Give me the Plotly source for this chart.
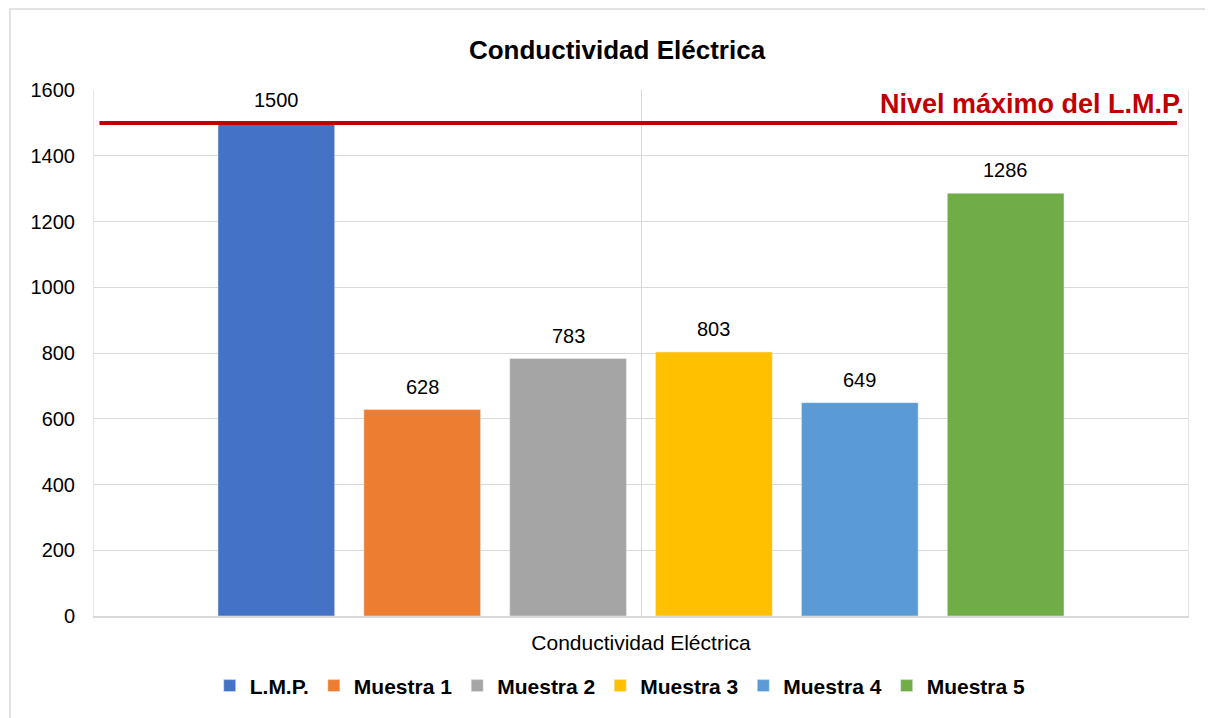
import plotly.graph_objects as go

category = ["Conductividad Eléctrica"]
series_names = ["L.M.P.", "Muestra 1", "Muestra 2", "Muestra 3", "Muestra 4", "Muestra 5"]
series_values = [1500, 628, 783, 803, 649, 1286]
series_colors = ["#4472C4", "#ED7D31", "#A5A5A5", "#FFC000", "#5B9BD5", "#70AD47"]
lmp_limit = 1500
y_ticks = [0, 200, 400, 600, 800, 1000, 1200, 1400, 1600]

FONT = "Liberation Sans, Arial, sans-serif"

# page body adds 8px, so the figure is a bit smaller than the window
WIDTH, HEIGHT = 1205, 710
MARGIN = dict(l=86, r=25, t=82, b=99)
BARGAP = 0.2


def main():
    fig = go.Figure()

    n = len(series_names)
    plot_w = WIDTH - MARGIN["l"] - MARGIN["r"]
    slot = plot_w * (1 - BARGAP) / n

    for i, (name, value, color) in enumerate(zip(series_names, series_values, series_colors)):
        fig.add_trace(go.Bar(
            x=category,
            y=[value],
            name=name,
            marker_color=color,
        ))
        # value label above each bar
        fig.add_annotation(xref="x", yref="y", x=category[0], y=value,
                           xshift=(i - (n - 1) / 2) * slot, yshift=10,
                           xanchor="center", yanchor="bottom",
                           text=str(value), showarrow=False,
                           font=dict(size=20, color="#000000", family=FONT))

    # limit line (L.M.P.)
    fig.add_shape(type="line", xref="paper", yref="y",
                  x0=0.005, x1=0.99, y0=lmp_limit, y1=lmp_limit,
                  line=dict(color="#C00000", width=4))
    fig.add_annotation(xref="paper", yref="y", x=0.998, y=lmp_limit,
                       xanchor="right", yanchor="bottom", yshift=2,
                       text="<b>Nivel máximo del L.M.P.</b>", showarrow=False,
                       font=dict(size=27, color="#C00000", family=FONT))

    # chart border
    fig.add_shape(type="rect", xref="paper", yref="paper",
                  x0=-0.0768, x1=1.05, y0=-0.25, y1=1.154,
                  line=dict(color="#D9D9D9", width=1.5), layer="below")

    fig.update_layout(
        width=WIDTH,
        height=HEIGHT,
        margin=MARGIN,
        paper_bgcolor="white",
        plot_bgcolor="white",
        font=dict(family=FONT, size=20, color="#000000"),
        title=dict(text="<b>Conductividad Eléctrica</b>", x=0.5054, xref="container",
                   y=0.9408, yref="container", xanchor="center", yanchor="middle",
                   font=dict(size=26, color="#000000", family=FONT)),
        barmode="group",
        bargap=BARGAP,
        bargroupgap=0.2,
        showlegend=True,
        legend=dict(orientation="h", x=0.481, xanchor="center", y=-0.133, yanchor="middle",
                    font=dict(size=21, color="#000000", family=FONT, weight="bold")),
    )
    fig.update_xaxes(showgrid=True, gridcolor="#D9D9D9", gridwidth=1,
                     showline=True, linecolor="#D9D9D9", linewidth=2,
                     ticks="", tickfont=dict(size=21), ticklabelstandoff=7)
    fig.update_yaxes(range=[0, 1600], tickvals=y_ticks, showgrid=True,
                     gridcolor="#D9D9D9", gridwidth=1, zeroline=False,
                     showline=True, mirror=True, linecolor="#E5E5E5", linewidth=1,
                     ticks="", tickfont=dict(size=20), ticklabelstandoff=14)

    fig.write_html("out.html")


if __name__ == "__main__":
    main()
